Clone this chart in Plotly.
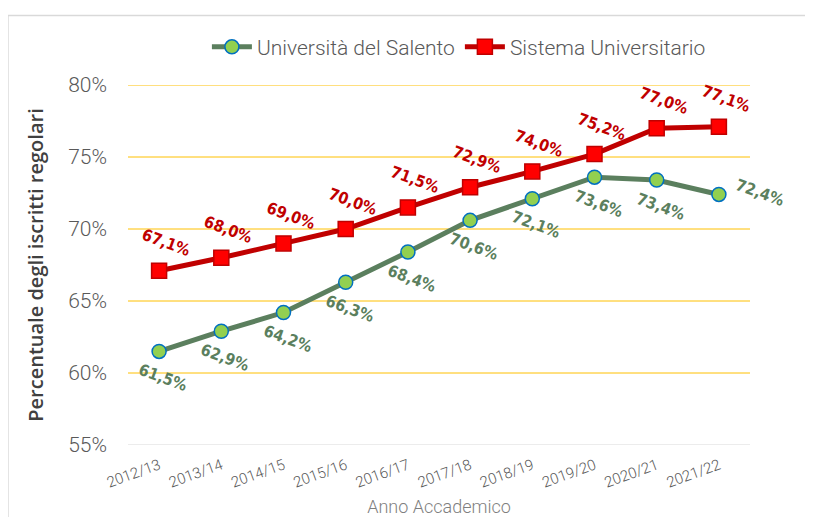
import plotly.graph_objects as go

anni = ["2012/13", "2013/14", "2014/15", "2015/16", "2016/17",
        "2017/18", "2018/19", "2019/20", "2020/21", "2021/22"]
salento = [61.5, 62.9, 64.2, 66.3, 68.4, 70.6, 72.1, 73.6, 73.4, 72.4]
sistema = [67.1, 68.0, 69.0, 70.0, 71.5, 72.9, 74.0, 75.2, 77.0, 77.1]
y_ticks = [55, 60, 65, 70, 75, 80]

light = "Roboto, Open Sans, sans-serif"
cond = "DejaVu Sans Condensed, sans-serif"
verde = "#5b7f5e"
rosso = "#c00000"

fig = go.Figure()
fig.add_trace(go.Scatter(x=anni, y=salento, mode="lines+markers", name="Università del Salento",
                         line=dict(color=verde, width=5),
                         marker=dict(symbol="circle", size=14, color="#92d050",
                                     line=dict(color="#0070c0", width=1.5))))
fig.add_trace(go.Scatter(x=anni, y=sistema, mode="lines+markers", name="Sistema Universitario",
                         line=dict(color=rosso, width=5),
                         marker=dict(symbol="square", size=15, color="#ff0000",
                                     line=dict(color=rosso, width=1.5))))

def lab(v):
    return ("%.1f%%" % v).replace(".", ",")

for a, v in zip(anni, sistema):
    fig.add_annotation(x=a, y=v, text="<b>" + lab(v) + "</b>", showarrow=False,
                       textangle=20, xshift=7, yshift=28,
                       font=dict(family=cond, size=16, color=rosso))
for i, (a, v) in enumerate(zip(anni, salento)):
    if i == len(anni) - 1:
        xs, ys = 41, 2
    else:
        xs, ys = 4, -26
    fig.add_annotation(x=a, y=v, text="<b>" + lab(v) + "</b>", showarrow=False,
                       textangle=20, xshift=xs, yshift=ys,
                       font=dict(family=cond, size=16, color=verde))

# linee della griglia
for t in y_ticks:
    fig.add_shape(type="line", xref="paper", yref="y", x0=0, x1=1, y0=t, y1=t,
                  line=dict(color="#d9d9d9" if t == 55 else "#ffc000", width=1), layer="below")

# cornice esterna
fig.add_shape(type="rect", xref="paper", yref="paper", x0=-0.193, x1=1.4, y0=-0.4, y1=1.193,
              line=dict(color="#d9d9d9", width=1.5))

fig.update_layout(
    width=813, height=517,
    margin=dict(l=120, r=71, t=77, b=72),
    plot_bgcolor="white", paper_bgcolor="white",
    showlegend=True,
    legend=dict(orientation="h", x=0.532, xanchor="center", y=1.105, yanchor="middle",
                font=dict(family=light, size=21, color="#595959", weight=300), itemwidth=40,
                tracegroupgap=0),
    xaxis=dict(range=[-0.5, 9.5], showgrid=False, zeroline=False, tickangle=-20,
               ticks="", ticklabelstandoff=8,
               tickfont=dict(family=light, size=15, color="#595959", weight=300),
               title=dict(text="Anno Accademico", standoff=9,
                          font=dict(family=light, size=18, color="#7f7f7f", weight=300))),
    yaxis=dict(range=[55, 80], tickvals=y_ticks, ticktext=[str(t) + "%" for t in y_ticks],
               showgrid=False, zeroline=False, ticks="", ticklabelstandoff=20,
               tickfont=dict(family=light, size=21, color="#595959", weight=300),
               title=dict(text="Percentuale degli iscritti regolari", standoff=19,
                          font=dict(family="Open Sans, sans-serif", size=20, color="#404040", weight=600))),
)

fig.write_html("out.html")
